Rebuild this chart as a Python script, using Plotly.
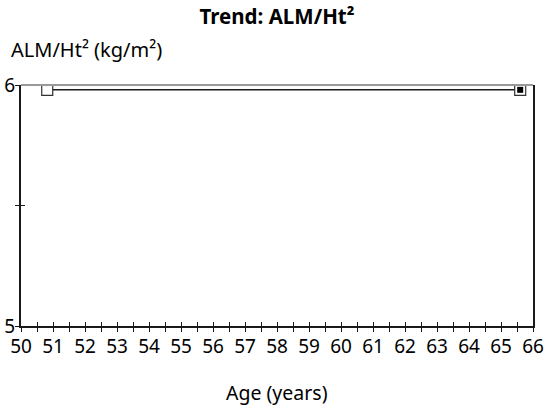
import plotly.graph_objects as go

# Data
ages = [50.82, 65.6]
alm_ht2 = [5.98, 5.98]
x_tick_vals = [50 + 0.5 * i for i in range(33)]
x_tick_text = [str(int(v)) if v == int(v) else "" for v in x_tick_vals]
y_tick_vals = [5, 5.5, 6]
y_tick_text = ["5", "", "6"]

FONT = "Noto Sans"
INK = "#1a1a1a"

fig = go.Figure()
fig.add_trace(go.Scatter(
    x=ages, y=alm_ht2, mode="lines+markers",
    line=dict(color=INK, width=1.5),
    marker=dict(symbol="square", size=11, color="white", line=dict(color="#333333", width=1.2)),
    showlegend=False, hoverinfo="x+y"))
fig.add_trace(go.Scatter(
    x=ages[-1:], y=alm_ht2[-1:], mode="markers",
    marker=dict(symbol="square", size=6, color="black", line=dict(width=0)),
    showlegend=False, hoverinfo="skip"))

axis_common = dict(range=[50, 66], tickvals=x_tick_vals, ticktext=x_tick_text,
                   showgrid=False, zeroline=False, automargin=False)
yaxis_common = dict(range=[5, 6], tickvals=y_tick_vals, ticktext=y_tick_text,
                    showgrid=False, zeroline=False, automargin=False)

fig.update_layout(
    width=547, height=410,
    margin=dict(l=21, r=14, t=85, b=84, autoexpand=False),
    paper_bgcolor="white", plot_bgcolor="white",
    font=dict(family=FONT, size=19, color="black"),
    title=dict(text="<b>Trend: ALM/Ht²</b>", x=0.5, xref="paper", xanchor="center",
               y=1 - 17 / 410, yref="container", yanchor="middle",
               font=dict(family=FONT, size=20.5, color="black")),
    xaxis=dict(**axis_common, showline=True, linecolor=INK, linewidth=2,
               ticks="outside", ticklen=4, tickcolor=INK, tickwidth=1,
               ticklabelstandoff=-2, tickfont=dict(size=19)),
    xaxis2=dict(**axis_common, overlaying="x", anchor="y", side="bottom",
                showline=False, ticks="inside", ticklen=4, tickcolor=INK, tickwidth=1,
                showticklabels=False),
    yaxis=dict(**yaxis_common, showline=True, linecolor=INK, linewidth=2, mirror=True,
               ticks="outside", ticklen=4, tickcolor=INK, tickwidth=1,
               ticklabelstandoff=-4, tickfont=dict(size=19)),
    yaxis2=dict(**yaxis_common, overlaying="y", anchor="x", side="left",
                showline=False, ticks="inside", ticklen=4, tickcolor=INK, tickwidth=1,
                showticklabels=False),
    shapes=[dict(type="line", xref="paper", yref="paper", x0=0, x1=1, y0=1, y1=1,
                 line=dict(color="#999999", width=2))],
    annotations=[
        dict(text="ALM/Ht² (kg/m²)", xref="paper", yref="paper", x=0, y=1,
             xanchor="left", yanchor="middle", xshift=-12, yshift=36,
             showarrow=False, font=dict(family=FONT, size=20, color="black")),
        dict(text="Age (years)", xref="paper", yref="paper", x=0.5, y=0,
             xanchor="center", yanchor="middle", yshift=-66,
             showarrow=False, font=dict(family=FONT, size=19.5, color="black")),
    ],
)
# invisible trace to activate overlay axes
fig.add_trace(go.Scatter(x=[50], y=[5], xaxis="x2", yaxis="y2", mode="markers",
                         marker=dict(opacity=0), showlegend=False, hoverinfo="skip"))

fig.write_html("out.html", config={"displayModeBar": False},
               post_script="document.body.style.margin='0';document.body.style.overflow='hidden';")
